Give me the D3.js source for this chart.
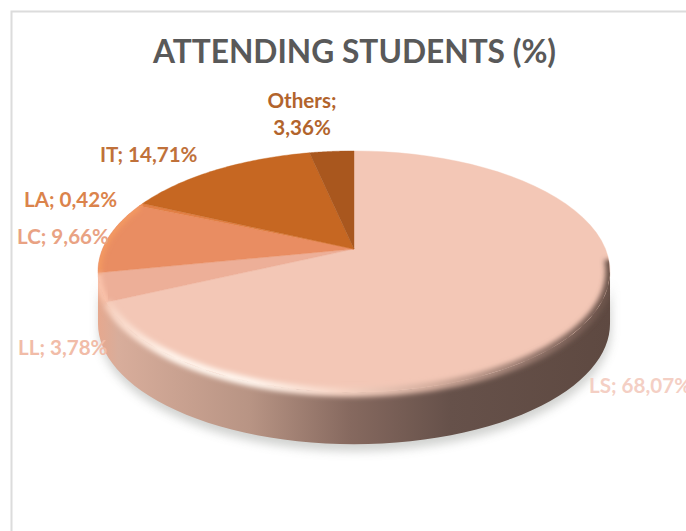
<!DOCTYPE html>
<html>
<head>
<meta charset="utf-8">
<script src="https://cdn.jsdelivr.net/npm/d3@7"></script>
<style>
  html, body { margin: 0; padding: 0; background: #fff; overflow: hidden; }
  text { font-family: Lato, "Open Sans", sans-serif; font-weight: 700; }
</style>
</head>
<body>
<svg id="chart" width="686" height="531"></svg>
<script>
// Attendance share per course
const categories = ["LS", "LL", "LC", "LA", "IT", "Others"];
const shares = [68.07, 3.78, 9.66, 0.42, 14.71, 3.36];
const valueLabels = ["68,07%", "3,78%", "9,66%", "0,42%", "14,71%", "3,36%"];
const sliceColors = ["#F3C7B6", "#EDAF98", "#E98D62", "#E27F45", "#C66722", "#A9571E"];
const labelColors = ["#F4CFC4", "#F1BCA8", "#E9A283", "#DB834B", "#C0713A", "#B2642C"];
const titleText = "ATTENDING STUDENTS (%)";

const svg = d3.select("#chart");
const defs = svg.append("defs");

// Tilted-disc projection: the apex sits above the ellipse centre because of perspective
const apex = { x: 354, y: 249 };
const radiusX = 251.5, radiusY = 116.4, tilt = 0.187, thickness = 52;
const project = (angle, r = 1) => {
  const u = r * Math.sin(angle), v = -r * Math.cos(angle), w = 1 - tilt * v;
  return [apex.x + radiusX * u / w, apex.y + radiusY * v / w];
};
const sampleArc = (a0, a1, r = 1) =>
  d3.range(0, 61).map(i => project(a0 + (a1 - a0) * i / 60, r));
const line = d3.line();

const pie = d3.pie().value(d => d).sort(null);
const arcs = pie(shares);

// Chart frame
svg.append("path")
  .attr("d", "M686,11.5H11.5V531")
  .attr("fill", "none").attr("stroke", "#DCDCDC").attr("stroke-width", 2);

// Horizon angles where the disc reaches its widest extent
const frontStart = Math.acos(-tilt);
const frontEnd = 2 * Math.PI - frontStart;
const rimFront = sampleArc(frontStart, frontEnd);
const lowerFront = rimFront.map(([x, y]) => [x, y + thickness]).reverse();
const wallOutline = rimFront.concat(lowerFront);
const fullRim = sampleArc(0, 2 * Math.PI);

const gradient = (id, stops) => {
  const g = defs.append("linearGradient").attr("id", id)
    .attr("gradientUnits", "userSpaceOnUse")
    .attr("x1", 98).attr("x2", 610).attr("y1", 0).attr("y2", 0);
  stops.forEach(([x, c]) => g.append("stop").attr("offset", (x - 98) / 512).attr("stop-color", c));
};
gradient("wall", [[98, "#E6A88E"], [118, "#D8AD9B"], [250, "#B89484"], [350, "#86695F"],
  [450, "#66514A"], [610, "#5E4941"]]);
gradient("rim", [[98, "#F4BDA5"], [115, "#F8D6C6"], [170, "#FFF3EA"], [250, "#FFF4EC"], [340, "#F7D4C4"],
  [430, "#D5AE9E"], [540, "#8F7268"], [610, "#6A5249"]]);

const blur = (id, sd) => defs.append("filter").attr("id", id)
  .attr("x", "-10%").attr("y", "-10%").attr("width", "120%").attr("height", "120%")
  .append("feGaussianBlur").attr("stdDeviation", sd);
blur("soft", 5);
blur("bevel", 2.6);

defs.append("clipPath").attr("id", "discClip").append("path")
  .attr("d", line(fullRim) + "Z" + line(wallOutline) + "Z");

// Cast shadow beneath the disc
svg.append("path")
  .attr("d", line(wallOutline.map(([x, y]) => [x + 1, y + 7])) + "Z")
  .attr("fill", "#9A9C98").attr("opacity", 0.45).attr("filter", "url(#soft)");

// Side wall
svg.append("path").attr("d", line(wallOutline) + "Z").attr("fill", "url(#wall)");

// Slices on the top face
svg.append("g").selectAll("path").data(arcs).join("path")
  .attr("d", d => line([[apex.x, apex.y], ...sampleArc(d.startAngle, d.endAngle)]) + "Z")
  .attr("fill", (d, i) => sliceColors[i])
  .attr("stroke", (d, i) => sliceColors[i]).attr("stroke-width", 0.4);

// Bevel: a soft band following the front rim, lit on the left and shaded on the right
const bevelGroup = svg.append("g").attr("clip-path", "url(#discClip)");
bevelGroup.append("path")
  .attr("d", line(sampleArc(frontStart - 0.1, arcs[0].endAngle)))
  .attr("fill", "none").attr("stroke", "url(#rim)").attr("stroke-width", 9)
  .attr("filter", "url(#bevel)");

// Lighter edge on the slices at the far left
arcs.slice(1, 4).forEach((d, i) => {
  bevelGroup.append("path")
    .attr("d", line(sampleArc(d.startAngle, d.endAngle)))
    .attr("fill", "none")
    .attr("stroke", ["#FBC4AC", "#F49A62", "#F49A62"][i])
    .attr("stroke-width", 7).attr("filter", "url(#bevel)");
});

// Title
svg.append("text").attr("x", 354.5).attr("y", 63)
  .attr("text-anchor", "middle").attr("font-size", 31.7)
  .attr("fill", "#595959").text(titleText);

// Data labels
const labelSpots = {
  LS: { x: 589, y: 393, anchor: "start" },
  LL: { x: 18, y: 355, anchor: "start" },
  LC: { x: 17, y: 244, anchor: "start" },
  LA: { x: 24, y: 207, anchor: "start" },
  IT: { x: 100, y: 162, anchor: "start" },
  Others: { x: 302, y: 108, anchor: "middle", split: true, gap: 27 }
};
const labels = svg.append("g").attr("font-size", 20.6);
categories.forEach((name, i) => {
  const spot = labelSpots[name];
  const t = labels.append("text").attr("x", spot.x).attr("y", spot.y)
    .attr("text-anchor", spot.anchor).attr("fill", labelColors[i]);
  if (spot.split) {
    t.append("tspan").text(name + ";");
    t.append("tspan").attr("x", spot.x).attr("dy", spot.gap).text(valueLabels[i]);
  } else {
    t.text(name + "; " + valueLabels[i]);
  }
});
</script>
</body>
</html>
